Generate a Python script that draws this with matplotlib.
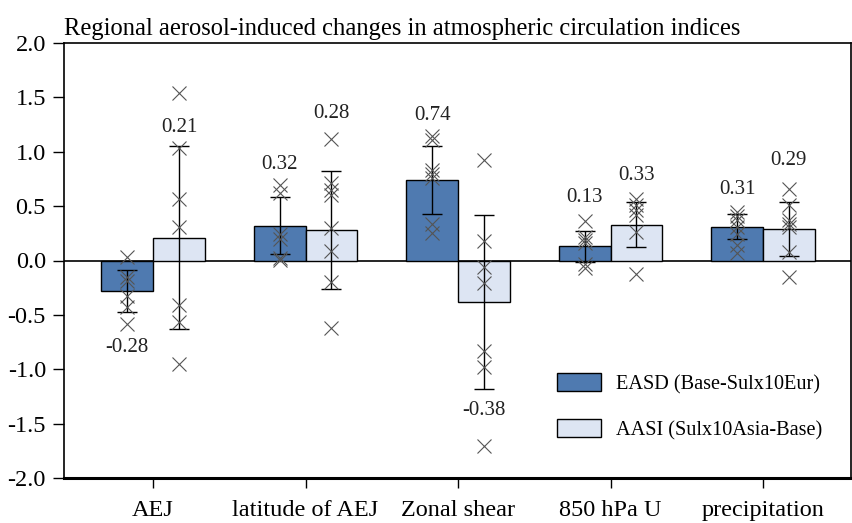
import matplotlib
matplotlib.use("Agg")
import matplotlib.pyplot as plt
import numpy as np

# ---------------- data ----------------
categories = ["AEJ", "latitude of AEJ", "Zonal shear", "850 hPa U", "precipitation"]
series_names = ["EASD (Base-Sulx10Eur)", "AASI (Sulx10Asia-Base)"]

easd_mean = [-0.28, 0.32, 0.74, 0.13, 0.31]
aasi_mean = [0.21, 0.28, -0.38, 0.33, 0.29]
easd_err = [0.195, 0.26, 0.31, 0.14, 0.115]
aasi_err = [0.84, 0.54, 0.80, 0.21, 0.25]

# individual members (crosses)
easd_members = [
    [0.03, -0.15, -0.19, -0.33, -0.43, -0.58],
    [0.69, 0.62, 0.24, 0.20, 0.02, 0.005],
    [1.145, 1.11, 0.83, 0.795, 0.755, 0.34, 0.255],
    [0.36, 0.22, 0.19, 0.16, -0.03, -0.07],
    [0.45, 0.41, 0.37, 0.31, 0.24, 0.14, 0.07],
]
aasi_members = [
    [1.54, 1.03, 0.57, 0.31, -0.41, -0.57, -0.955],
    [1.12, 0.71, 0.65, 0.60, 0.30, 0.09, -0.20, -0.62],
    [0.92, 0.18, -0.06, -0.21, -0.83, -0.98, -1.71],
    [0.57, 0.51, 0.46, 0.42, 0.265, -0.12],
    [0.655, 0.51, 0.37, 0.335, 0.305, 0.08, -0.15],
]

# label offsets (pixels) from the end of each error bar
easd_label_off = [-35, 33, 31, 34, 25]
aasi_label_off = [19, 58, -22, 26, 41]

# ---------------- plotting ----------------
plt.rcParams["font.family"] = ["Liberation Serif", "DejaVu Serif"]
plt.rcParams["font.size"] = 17.5

blue = "#4f7ab0"
light = "#dde5f3"
width = 0.34

fig = plt.figure(figsize=(8.52, 5.23), dpi=100)
ax = fig.add_axes([64 / 852, 45 / 523, 787 / 852, 435 / 523])

x = np.arange(len(categories))

for i, (means, errs, members, offs, color, name) in enumerate([
    (easd_mean, easd_err, easd_members, easd_label_off, blue, series_names[0]),
    (aasi_mean, aasi_err, aasi_members, aasi_label_off, light, series_names[1]),
]):
    xs = x + (i - 0.5) * width
    ax.bar(xs, means, width, color=color, edgecolor="black", linewidth=1.0,
           label=name, zorder=2)
    ax.errorbar(xs, means, yerr=errs, fmt="none", ecolor="black",
                elinewidth=1.0, capsize=7, capthick=1.0, zorder=3)
    for j in range(len(categories)):
        ax.plot([xs[j]] * len(members[j]), members[j], linestyle="none",
                marker="x", markersize=10, markeredgewidth=0.8,
                color="#555555", zorder=4)
        end = means[j] + np.sign(offs[j]) * errs[j]
        ax.annotate(f"{means[j]:.2f}", (xs[j], end),
                    xytext=(0, offs[j] * 0.72), textcoords="offset points",
                    ha="center", va="center", fontsize=15, color="#222222")

ax.axhline(0, color="black", linewidth=1.2, zorder=1)

ax.set_xlim(-0.584, 4.577)
ax.set_ylim(-2.0, 2.0)
ax.set_yticks(np.arange(-2.0, 2.01, 0.5))
ax.set_yticklabels([f"{v:.1f}" for v in np.arange(-2.0, 2.01, 0.5)])
ax.set_xticks(x)
ax.set_xticklabels(categories)
ax.tick_params(axis="y", length=8, width=1.0, pad=5)
ax.tick_params(axis="x", length=7, width=1.0, pad=9)

for side in ["left", "top", "right"]:
    ax.spines[side].set_linewidth(1.2)
ax.spines["bottom"].set_linewidth(2.2)

ax.set_title("Regional aerosol-induced changes in atmospheric circulation indices",
             loc="left", fontsize=17.7, pad=6, x=0.0)

ax.legend(loc="center left", bbox_to_anchor=(0.626, 0.164), frameon=False,
          borderpad=0, borderaxespad=0,
          handlelength=2.2, handleheight=0.95, labelspacing=1.25,
          handletextpad=0.75, fontsize=14.6)

fig.savefig("out.png", dpi=100)
